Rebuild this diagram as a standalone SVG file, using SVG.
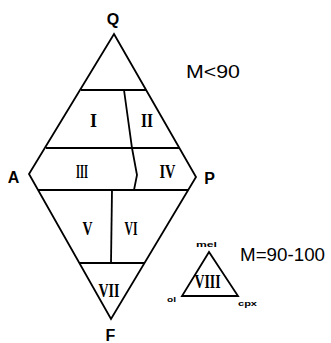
<svg xmlns="http://www.w3.org/2000/svg" width="331" height="343" viewBox="0 0 331 343">
<style>
.ln{fill:none;stroke:#000;stroke-width:1.8;stroke-linejoin:miter}
.vx{font-family:"Liberation Sans",Arial,sans-serif;font-size:16px;font-weight:bold;text-anchor:middle}
.rn{font-family:"Liberation Serif","Times New Roman",serif;font-size:18px;font-weight:bold;text-anchor:middle}
.m{font-family:"Liberation Sans",Arial,sans-serif;font-size:18px}
.sm{font-family:"Liberation Sans",Arial,sans-serif;font-size:8px;font-weight:bold}
</style>
<rect width="331" height="343" fill="#fff"/>
<g id="diamond">
<polygon class="ln" points="114,34 196,177 111,319 29,174"/>
</g>
<g id="connectors">
<line class="ln" x1="81" y1="90" x2="146" y2="90"/>
<line class="ln" x1="46" y1="148" x2="180" y2="148"/>
<line class="ln" x1="38" y1="190" x2="188" y2="190"/>
<line class="ln" x1="79" y1="263" x2="144" y2="263"/>
<polyline class="ln" points="124,90 132,148 137,175 134,190"/>
<line class="ln" x1="112" y1="190" x2="111" y2="263"/>
</g>
<g id="labels">
<text class="vx" x="113" y="25">Q</text>
<text class="vx" x="13.5" y="183">A</text>
<text class="vx" x="209.5" y="184">P</text>
<text class="vx" x="110.5" y="341">F</text>
</g>
<g id="fields">
<text class="rn" x="93.5" y="127">I</text>
<text class="rn" x="147" y="127" textLength="12" lengthAdjust="spacingAndGlyphs">II</text>
<text class="rn" x="82" y="178" textLength="12" lengthAdjust="spacingAndGlyphs">III</text>
<text class="rn" x="167.5" y="178" textLength="16" lengthAdjust="spacingAndGlyphs">IV</text>
<text class="rn" x="87.5" y="235" textLength="10" lengthAdjust="spacingAndGlyphs">V</text>
<text class="rn" x="131" y="235" textLength="13" lengthAdjust="spacingAndGlyphs">VI</text>
<text class="rn" x="109" y="297" textLength="21" lengthAdjust="spacingAndGlyphs">VII</text>
</g>
<text class="m" x="186" y="78" textLength="54" lengthAdjust="spacingAndGlyphs">M&lt;90</text>
<g id="small-triangle">
<polygon class="ln" points="209,252 182,296 238,296"/>
<text class="rn" x="207.5" y="288" textLength="26" lengthAdjust="spacingAndGlyphs">VIII</text>
<text class="sm" x="196" y="247" textLength="21" lengthAdjust="spacingAndGlyphs">mel</text>
<text class="sm" x="167" y="302" textLength="9" lengthAdjust="spacingAndGlyphs">ol</text>
<text class="sm" x="238" y="306" textLength="19" lengthAdjust="spacingAndGlyphs">cpx</text>
</g>
<text class="m" x="240" y="261" textLength="85" lengthAdjust="spacingAndGlyphs">M=90-100</text>
</svg>
